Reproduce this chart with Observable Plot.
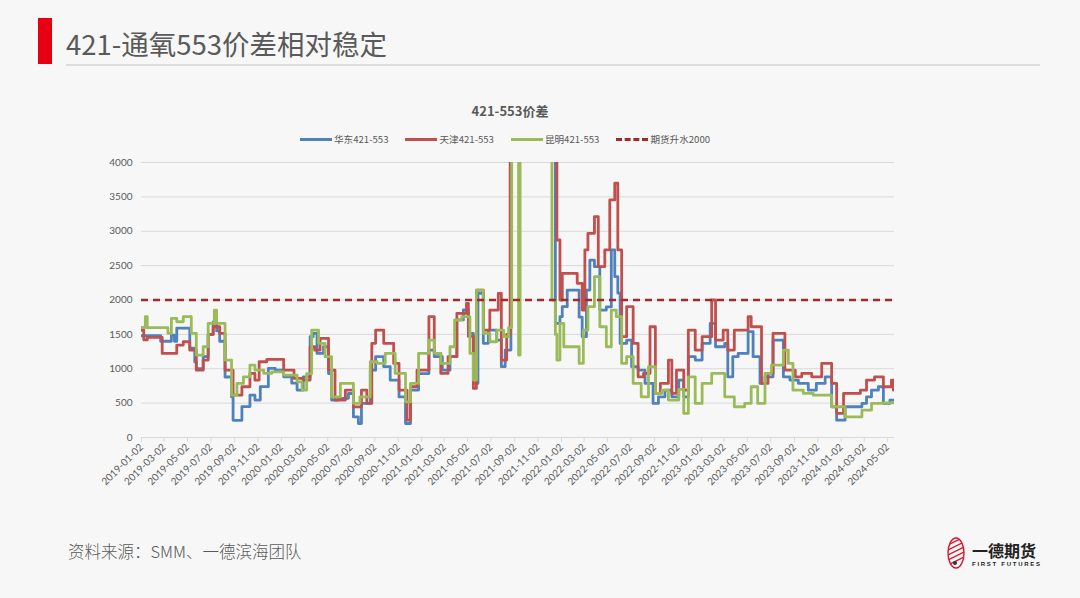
<!DOCTYPE html>
<html><head><meta charset="utf-8">
<script src="https://cdn.jsdelivr.net/npm/d3@7"></script>
<script src="https://cdn.jsdelivr.net/npm/@observablehq/plot@0.6"></script>
<style>
html,body{margin:0;padding:0;background:#f7f7f7;}
body{width:1080px;height:598px;position:relative;overflow:hidden;font-family:"Noto Sans CJK SC","Noto Sans",sans-serif;color:#595959;}
#bar{position:absolute;left:38px;top:18px;width:14px;height:46px;background:#e60012;}
#title{position:absolute;left:66px;top:26px;font-size:27.5px;line-height:34px;color:#5a5a5a;letter-spacing:0px;}
#rule{position:absolute;left:66px;top:64px;width:974px;height:2px;background:#dcdcdc;}
#chart{position:absolute;left:0;top:0;}
#ctitle{position:absolute;left:0;width:1020px;text-align:center;top:101px;font-size:13px;font-weight:bold;color:#595959;font-family:"Noto Sans CJK SC",sans-serif;}
#legend{position:absolute;top:132px;left:300px;font-size:9.6px;color:#595959;white-space:nowrap;font-family:"Noto Sans CJK SC",sans-serif;}
#legend span.item{display:inline-block;margin-right:17px;}
#legend i{display:inline-block;width:32px;height:0;border-top:3px solid;vertical-align:middle;margin-right:2px;position:relative;top:-1px;}
#source{position:absolute;left:68px;top:539px;font-size:16.5px;color:#595959;font-weight:300;}
#logo{position:absolute;left:946px;top:536px;width:100px;height:34px;}
</style></head><body>
<div id="bar"></div>
<div id="title">421-通氧553价差相对稳定</div>
<div id="rule"></div>
<div id="chart"></div>
<div id="ctitle">421-553价差</div>
<div id="legend"></div>
<div id="source">资料来源：SMM、一德滨海团队</div>
<div id="logo">
<svg width="100" height="34" viewBox="0 0 100 34">
<defs><clipPath id="ec"><ellipse cx="10" cy="17" rx="8" ry="15"/></clipPath></defs>
<ellipse cx="10" cy="17" rx="8" ry="15" fill="none" stroke="#d7182a" stroke-width="1.4"/>
<g clip-path="url(#ec)" stroke="#d7182a" stroke-width="1.3">
<line x1="0" y1="10" x2="20" y2="0"/><line x1="0" y1="15" x2="20" y2="5"/><line x1="0" y1="20" x2="20" y2="10"/><line x1="0" y1="25" x2="20" y2="15"/><line x1="0" y1="30" x2="20" y2="20"/>
</g>
<circle cx="9" cy="27" r="2" fill="#333"/>
<text x="26" y="21" font-size="16" font-weight="bold" fill="#222" font-family="Noto Sans CJK SC">一德期货</text>
<text x="26" y="30" font-size="6" font-weight="bold" fill="#222" font-family="Liberation Sans" textLength="68">FIRST FUTURES</text>
</svg>
</div>
<script>
// ---- data ----
const seriesNames = ["华东421-553","天津421-553","昆明421-553"];
const seriesColors = ["#4f81bd","#c0504d","#9bbb59"];
const futuresPremium = 2000;
const premiumName = "期货升水2000";
const yTicks = [0,500,1000,1500,2000,2500,3000,3500,4000];
const xTickLabels = ["2019-01-02","2019-03-02","2019-05-02","2019-07-02","2019-09-02","2019-11-02",
"2020-01-02","2020-03-02","2020-05-02","2020-07-02","2020-09-02","2020-11-02",
"2021-01-02","2021-03-02","2021-05-02","2021-07-02","2021-09-02","2021-11-02",
"2022-01-02","2022-03-02","2022-05-02","2022-07-02","2022-09-02","2022-11-02",
"2023-01-02","2023-03-02","2023-05-02","2023-07-02","2023-09-02","2023-11-02",
"2024-01-02","2024-03-02","2024-05-02"];
const xStart = "2019-01-02", xEnd = "2024-05-20";

const huadong = [["2019-01-02",1480],["2019-02-21",1400],["2019-03-21",1490],["2019-03-29",1400],["2019-04-04",1590],["2019-05-08",1300],["2019-05-21",1100],["2019-05-25",1000],["2019-06-12",1175],["2019-06-25",1500],["2019-07-08",1680],["2019-07-17",1550],["2019-07-25",1400],["2019-08-08",880],["2019-08-25",590],["2019-08-29",250],["2019-09-21",450],["2019-10-12",615],["2019-10-25",545],["2019-11-08",740],["2019-11-29",1005],["2019-12-17",980],["2020-01-08",883],["2020-01-29",790],["2020-02-12",690],["2020-02-28",880],["2020-03-17",1466],["2020-03-25",1515],["2020-04-04",1223],["2020-04-21",1320],["2020-05-04",930],["2020-05-12",545],["2020-05-29",570],["2020-06-25",640],["2020-07-08",300],["2020-07-21",204],["2020-07-29",495],["2020-08-21",980],["2020-09-04",1175],["2020-09-25",1030],["2020-10-12",835],["2020-11-04",590],["2020-11-21",204],["2020-12-04",690],["2020-12-25",930],["2021-01-21",1270],["2021-02-04",1175],["2021-02-25",980],["2021-03-17",1175],["2021-04-04",1710],["2021-04-21",1855],["2021-05-04",1515],["2021-05-17",786],["2021-05-29",2097],["2021-06-12",1370],["2021-06-25",1563],["2021-07-17",1417],["2021-07-29",1030],["2021-08-08",1272],["2021-08-23",6000],["2021-12-14",6000],["2021-12-17",1660],["2021-12-29",1757],["2022-01-04",1903],["2022-01-17",2145],["2022-02-17",1750],["2022-02-25",1466],["2022-03-08",2145],["2022-03-17",2580],["2022-03-29",2485],["2022-04-12",1854],["2022-04-29",1900],["2022-05-12",2728],["2022-05-21",2340],["2022-05-29",2100],["2022-06-04",1369],["2022-06-21",1417],["2022-07-04",1029],["2022-07-21",980],["2022-08-08",786],["2022-08-29",495],["2022-09-12",592],["2022-09-29",689],["2022-10-17",592],["2022-11-04",835],["2022-11-17",592],["2022-11-29",1175],["2022-12-17",1126],["2023-01-04",1369],["2023-01-25",1660],["2023-02-08",1320],["2023-03-04",1369],["2023-03-12",883],["2023-03-25",1175],["2023-04-08",1223],["2023-05-04",1540],["2023-05-17",1175],["2023-06-04",786],["2023-06-17",883],["2023-07-08",1417],["2023-08-04",883],["2023-08-21",835],["2023-09-12",786],["2023-10-08",689],["2023-10-29",786],["2023-11-21",883],["2023-12-08",447],["2023-12-21",252],["2024-01-12",447],["2024-02-25",495],["2024-03-08",592],["2024-03-21",689],["2024-04-08",738],["2024-04-21",495],["2024-05-08",544],["2024-05-20",544]];

const tianjin = [["2019-01-02",1560],["2019-01-08",1420],["2019-01-17",1456],["2019-02-25",1223],["2019-04-04",1345],["2019-04-21",1393],["2019-05-08",1270],["2019-05-25",980],["2019-06-12",1126],["2019-06-25",1500],["2019-07-08",1611],["2019-07-25",1515],["2019-08-08",980],["2019-08-29",616],["2019-09-21",738],["2019-10-12",932],["2019-10-25",835],["2019-11-05",1102],["2019-11-25",1136],["2020-01-08",980],["2020-02-04",860],["2020-02-28",835],["2020-03-17",1320],["2020-03-29",1270],["2020-04-12",1441],["2020-05-04",980],["2020-05-21",545],["2020-06-17",690],["2020-07-08",446],["2020-07-29",690],["2020-08-12",495],["2020-08-25",1370],["2020-09-04",1563],["2020-09-25",1370],["2020-10-21",1078],["2020-11-04",690],["2020-11-25",252],["2020-12-04",738],["2020-12-21",980],["2021-01-21",1757],["2021-02-04",1223],["2021-02-21",932],["2021-03-12",1175],["2021-04-04",1806],["2021-04-29",1951],["2021-05-04",1470],["2021-05-17",714],["2021-05-25",2145],["2021-06-12",1563],["2021-06-29",1854],["2021-07-21",2097],["2021-07-29",1126],["2021-08-12",1500],["2021-08-21",6000],["2021-12-14",6000],["2021-12-21",2873],["2021-12-29",2000],["2022-01-04",2388],["2022-02-12",2242],["2022-02-25",1854],["2022-03-04",2728],["2022-03-12",2970],["2022-03-29",3213],["2022-04-08",2485],["2022-04-25",2728],["2022-05-08",3456],["2022-05-21",3699],["2022-05-29",2728],["2022-06-08",1466],["2022-06-21",1903],["2022-07-08",1369],["2022-07-21",883],["2022-08-04",932],["2022-08-21",1611],["2022-09-04",641],["2022-09-17",786],["2022-10-08",1126],["2022-10-17",641],["2022-10-29",980],["2022-11-17",689],["2022-11-29",1563],["2022-12-17",1272],["2023-01-04",1466],["2023-01-29",2000],["2023-02-08",1417],["2023-02-28",1563],["2023-03-12",1272],["2023-03-29",1563],["2023-05-04",1757],["2023-05-12",1611],["2023-06-08",786],["2023-06-25",932],["2023-07-08",1514],["2023-08-08",980],["2023-09-04",883],["2023-09-21",932],["2023-10-17",883],["2023-11-12",1078],["2023-12-08",786],["2023-12-21",350],["2024-01-08",641],["2024-02-21",689],["2024-03-08",835],["2024-03-29",883],["2024-04-21",738],["2024-05-12",835],["2024-05-17",689],["2024-05-20",689]];

const kunming = [["2019-01-02",1600],["2019-01-12",1757],["2019-01-17",1597],["2019-03-12",1515],["2019-03-21",1733],["2019-04-04",1684],["2019-04-21",1757],["2019-05-12",1515],["2019-05-25",1199],["2019-06-12",1320],["2019-06-25",1660],["2019-07-11",1854],["2019-07-17",1660],["2019-08-08",1126],["2019-08-25",616],["2019-09-08",786],["2019-09-25",883],["2019-10-12",1053],["2019-10-25",980],["2019-11-17",932],["2019-12-08",956],["2020-01-08",908],["2020-02-12",810],["2020-02-25",690],["2020-03-08",930],["2020-03-21",1563],["2020-04-08",1370],["2020-04-25",1175],["2020-05-12",590],["2020-06-04",786],["2020-07-08",495],["2020-07-25",590],["2020-08-21",1102],["2020-09-08",1078],["2020-09-29",1223],["2020-10-25",932],["2020-11-21",519],["2020-12-04",786],["2020-12-25",1223],["2021-01-21",1417],["2021-02-04",1223],["2021-02-21",1078],["2021-03-17",1320],["2021-03-29",1709],["2021-04-17",1757],["2021-05-08",1223],["2021-05-17",835],["2021-05-25",2145],["2021-06-12",1515],["2021-06-29",1393],["2021-07-17",1563],["2021-08-04",1466],["2021-08-17",1600],["2021-08-25",6000],["2021-09-10",6000],["2021-09-12",1200],["2021-09-16",6000],["2021-12-06",6000],["2021-12-08",2000],["2021-12-17",1500],["2021-12-21",1126],["2021-12-29",1660],["2022-01-08",1320],["2022-02-17",1078],["2022-02-28",1563],["2022-03-12",1903],["2022-03-29",2340],["2022-04-12",1611],["2022-04-29",1320],["2022-05-12",1854],["2022-05-25",1757],["2022-06-08",1078],["2022-06-21",1175],["2022-07-08",786],["2022-07-29",592],["2022-08-17",1029],["2022-09-04",641],["2022-09-21",689],["2022-10-08",544],["2022-11-04",700],["2022-11-17",350],["2022-11-29",883],["2022-12-17",495],["2023-01-04",786],["2023-01-29",932],["2023-03-04",592],["2023-03-29",447],["2023-04-25",495],["2023-05-12",738],["2023-05-29",495],["2023-06-17",932],["2023-07-04",1053],["2023-08-04",1272],["2023-08-17",1078],["2023-08-29",689],["2023-09-25",641],["2023-10-21",616],["2023-12-08",447],["2024-01-12",301],["2024-02-25",398],["2024-03-21",495],["2024-04-17",505],["2024-05-20",505]];

// ---- build chart ----
const parse = d3.utcParse("%Y-%m-%d");
const toRows = (arr) => arr.map(([d, v]) => ({date: parse(d), value: v}));
const allSeries = [huadong, tianjin, kunming];

const lineMarks = allSeries.map((s, i) => Plot.lineY(toRows(s), {
  x: "date", y: "value", stroke: seriesColors[i], strokeWidth: 2.8,
  curve: "step-after", clip: true, strokeLinejoin: "round"
}));

const chart = Plot.plot({
  width: 1080, height: 500,
  marginLeft: 141, marginRight: 186, marginTop: 162, marginBottom: 63,
  style: {background: "transparent", fontFamily: "Lato, 'Liberation Sans', sans-serif", fontSize: "10px", color: "#595959", overflow: "visible"},
  x: {type: "utc", domain: [parse(xStart), parse(xEnd)]},
  y: {domain: [0, 4000]},
  marks: [
    Plot.ruleY(yTicks.filter(t => t > 0), {stroke: "#d9d9d9", strokeWidth: 1, strokeOpacity: 1}),
    Plot.axisY({ticks: yTicks, tickFormat: d => String(d), tickSize: 0, tickPadding: 9, label: null, fill: "#595959"}),
    Plot.ruleY([0], {stroke: "#d9d9d9", strokeWidth: 1.2}),
    Plot.axisX({ticks: xTickLabels.map(parse), tickFormat: d3.utcFormat("%Y-%m-%d"), tickRotate: -45,
      tickSize: 5, tickPadding: 3, stroke: "#d9d9d9", label: null, fill: "#595959", strokeOpacity: 1}),
    ...lineMarks,
    Plot.ruleY([futuresPremium], {stroke: "#a02b2b", strokeWidth: 2.6, strokeDasharray: "7,5"})
  ]
});
document.getElementById("chart").appendChild(chart);

// legend
const leg = document.getElementById("legend");
seriesNames.forEach((n, i) => {
  const s = document.createElement("span"); s.className = "item";
  s.innerHTML = `<i style="border-color:${seriesColors[i]}"></i>${n}`;
  leg.appendChild(s);
});
const d = document.createElement("span"); d.className = "item";
d.innerHTML = `<i style="border-top:3px dashed #a02b2b"></i>${premiumName}`;
leg.appendChild(d);
</script>
</body></html>
